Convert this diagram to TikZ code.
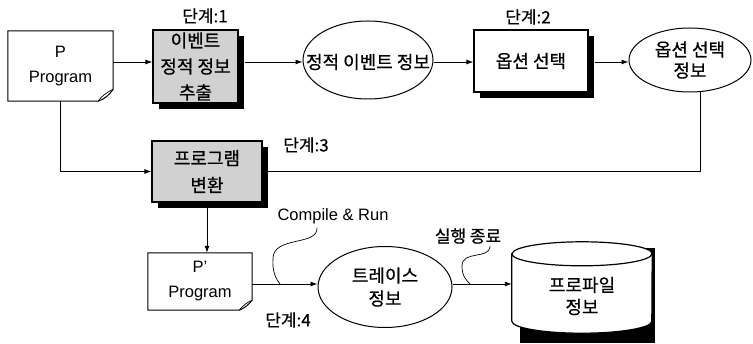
\documentclass[tikz,border=0pt]{standalone}
\usepackage{fontspec}
\setmainfont{Liberation Sans}
\newfontfamily\kr[RawFeature={embolden=0.6}]{Noto Sans CJK KR}
\usetikzlibrary{arrows.meta,shadows,calc,shapes.geometric}
\begin{document}
\begin{tikzpicture}[x=1pt,y=-1pt,
  conn/.style={line width=0.9pt},
  arr/.style={conn,-{Latex[length=7pt,width=5pt]}},
  callout/.style={line width=0.7pt},
  proc/.style={draw,line width=1.2pt,align=center,inner sep=0pt,
    font=\kr\fontsize{18}{26}\selectfont,
    drop shadow={shadow xshift=6pt,shadow yshift=-6pt,fill=black,opacity=1}},
  ell/.style={draw,ellipse,line width=1pt,inner sep=0pt,align=center,fill=white},
  kt/.style={font=\kr\fontsize{18}{22}\selectfont,align=center,inner sep=0pt},
  doc/.style={inner sep=0pt,align=center,font=\fontsize{16.5}{25}\selectfont},
  doclines/.style={line width=1pt},
  stagelab/.style={font=\kr\fontsize{17}{17}\selectfont,inner sep=0pt},
]
\useasboundingbox (0,0) rectangle (753,344);

% document P
\node[doc,minimum width=105pt,minimum height=70pt] (P) at (60.5,66) {P\\Program};
\draw[doclines] (P.north west) -- (P.north east) -- ($(P.south east)+(0,-12)$)
  .. controls ($(P.south east)+(-4,-6)$) and ($(P.south east)+(-9,-2)$) .. ($(P.south east)+(-15,0)$)
  -- (P.south west) -- cycle;
\draw[line width=0.7pt] ($(P.south east)+(-15,0)$) .. controls ($(P.south east)+(-12,-5)$) and ($(P.south east)+(-6,-9)$) .. ($(P.south east)+(0,-12)$);

% process 1
\node[proc,fill=black!18,minimum width=85pt,minimum height=73pt] (b1) at (195.5,66.5) {이벤트\\정적 정보\\추출};
\node[stagelab] (s1) at (205,16) {단계:1};

% ellipse 1
\node[ell,minimum width=130pt,minimum height=78pt] (e1) at (368,60) {};
\node[kt] (e1t) at (368,62) {정적 이벤트 정보};

% process 2
\node[proc,fill=white,minimum width=114pt,minimum height=62pt] (b2) at (531,61) {옵션 선택};
\node[stagelab] (s2) at (528,17) {단계:2};

% ellipse 2
\node[ell,kt,draw,ellipse,line width=1pt,minimum width=122pt,minimum height=64pt,font=\kr\fontsize{18}{21}\selectfont] (e2) at (690,60) {옵션 선택\\정보};

% process 3
\node[proc,fill=black!18,minimum width=110pt,minimum height=61pt,font=\kr\fontsize{18}{27}\selectfont] (b3) at (207,171.5) {프로그램\\변환};
\node[stagelab] (s3) at (306,145) {단계:3};

% document P'
\node[doc,minimum width=104pt,minimum height=57pt] (P2) at (200,281.5) {P'\\Program};
\draw[doclines] (P2.north west) -- (P2.north east) -- ($(P2.south east)+(0,-10)$)
  .. controls ($(P2.south east)+(-4,-5)$) and ($(P2.south east)+(-8,-2)$) .. ($(P2.south east)+(-13,0)$)
  -- (P2.south west) -- cycle;
\draw[line width=0.7pt] ($(P2.south east)+(-13,0)$) .. controls ($(P2.south east)+(-10,-4)$) and ($(P2.south east)+(-5,-8)$) .. ($(P2.south east)+(0,-10)$);

% ellipse 3
\node[ell,kt,draw,ellipse,line width=1pt,minimum width=134pt,minimum height=81pt,font=\kr\fontsize{18}{23}\selectfont] (e3) at (385,287) {트레이스\\정보};

% cylinder
\node[inner sep=0pt,minimum width=140pt,minimum height=91pt] (cy) at (582,287.5) {};
\fill[black] ($(cy.north west)+(8,6)$) rectangle ($(cy.south east)+(3,10)$);
\draw[line width=1.2pt,fill=white] ($(cy.north west)+(0,12)$) -- ($(cy.south west)+(0,-12)$)
  arc[start angle=180,end angle=0,x radius=70,y radius=12]
  -- ($(cy.north east)+(0,12)$)
  arc[start angle=0,end angle=-180,x radius=70,y radius=12] -- cycle;
\draw[line width=1.2pt] ($(cy.north west)+(0,12)$) arc[start angle=180,end angle=0,x radius=70,y radius=12];
\node[kt] (cyt) at (582,296) {프로파일\\정보};

\node[stagelab] (s4) at (288,320) {단계:4};

% connectors
\coordinate (rowA) at (0,62);
\coordinate (rowB) at (0,284);
\draw[arr] (P.east |- rowA) -- (b1.west |- rowA);
\draw[arr] ($(b1.east |- rowA)+(6,0)$) -- (e1.west |- rowA);
\draw[arr] (e1.east |- rowA) -- (b2.west |- rowA);
\draw[arr] ($(b2.east |- rowA)+(6,0)$) -- (e2.west |- rowA);
\draw[arr] (P.south) |- (b3.west);
\draw[conn] (e2.-72) |- (b3.east);
\draw[arr] (b3.south) -- (b3.south |- P2.north);
\draw[arr] (P2.east |- rowB) -- (e3.west |- rowB);
\draw[arr] (e3.east |- rowB) -- (cy.west |- rowB);

% callouts
\node[font=\fontsize{16.5}{16}\selectfont,inner sep=0pt] (cr) at (333,216) {Compile \& Run};
\coordinate (crp) at (280,284);
\draw[callout] ($(cr.south)+(-16,4)$) .. controls ($(cr.south)+(-15,22)$) and (274,236) .. (273,258)
  .. controls (272,272) and (276,279) .. (crp);
\node[font=\kr\fontsize{17}{17}\selectfont,inner sep=0pt] (ex) at (468,236) {실행 종료};
\coordinate (exp) at (470,284);
\draw[callout] ($(ex.south)+(22,2)$) .. controls ($(ex.south)+(22,16)$) and (462,250) .. (462,266)
  .. controls (462,276) and (466,280) .. (exp);
\end{tikzpicture}
\end{document}
